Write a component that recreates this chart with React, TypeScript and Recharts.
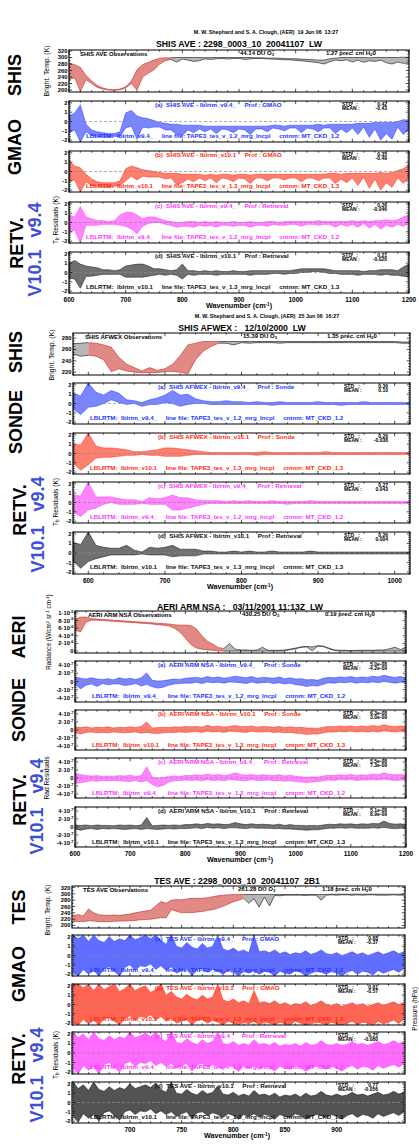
import React from "react";
import { ComposedChart, Area, XAxis, YAxis, ReferenceLine, ReferenceArea } from "recharts";

const FONT = '"Liberation Sans", Arial, Helvetica, sans-serif';
const PAGE_W = 419;
const PAGE_H = 1145;

const BLUE = "#2236ff";
const RED = "#ff2a12";
const MAGENTA = "#ff33ff";
const BLACK = "#111111";
const OBS_RED = "#c9281f";
const LABEL_BLUE = "#3d4fd8";

// ---------- wavenumber grids (cm-1) ----------
const SHIS_WN = [600,610,620,630,640,650,660,670,680,690,700,710,720,730,740,750,760,770,780,790,800,810,820,830,840,850,860,870,880,890,900,910,920,930,940,950,960,970,980,990,1000,1010,1020,1030,1040,1050,1060,1070,1080,1090,1100,1110,1120,1130,1140,1150,1160,1170,1180,1190,1200];
const AFWEX_WN = [580,590,600,610,620,630,640,650,660,670,680,690,700,710,720,730,740,750,760,770,780,790,800,810,820,830,840,850,860,870,880,890,900,910,920,930,940,950,960,970,980,990,1000,1010,1020];
const AERI_WN = SHIS_WN;
const TES_WN = [645,650,655,660,665,670,675,680,685,690,695,700,705,710,715,720,725,730,735,740,745,750,755,760,765,770,775,780,785,790,795,800,805,810,815,820,825,830,835,840,845,850,855,860,865,870,875,880,885,890,895,900,905,910,915,920,925,930,935,940,945,950,955,960,965];

// ---------- SHIS AVE (brightness temp K, residuals K): envelope lo / hi ----------
const SHIS_BT_HI = [282,278,270,245,228,214,206,202,201,203,210,228,262,278,285,292,298,299,299,300,300, 300,300,300,299,300,300,300,300,300,300, 300,300,299,299,298,298,298,297,296,296, 295,294,293,292,292,296,298,300,300,300, 300,300,299,300,300,300,300,300,301,300];
const SHIS_BT_LO = [232,238,196,232,220,208,203,200,199,201,206,220,200,240,252,262,280,290,294,286,295, 292,288,290,296,294,296,297,295,297,297, 294,296,297,297,296,295,294,293,293,291, 290,288,286,284,280,287,292,290,293,286, 292,285,290,288,292,284,280,286,282,284];
const SHIS_A_HI = [0.6,0.9,1.8,-0.3,-0.9,-1.1,-1.2,-1.3,-1.3,-1.1,0.9,1.2,0.6,0.4,0.3,0.1,-0.1,-0.2,-0.3,-0.3,-0.4, -0.4,-0.4,-0.4,-0.5,-0.5,-0.5,-0.5,-0.5,-0.5,-0.5, -0.5,-0.5,-0.5,-0.5,-0.5,-0.4,-0.4,-0.5,-0.4,-0.4, -0.4,-0.4,-0.4,-0.3,-0.4,-0.3,-0.3,-0.3,-0.3,-0.3, -0.2,-0.2,-0.2,-0.1,-0.1,-0.1,-0.1,0.0,0.2,0.1];
const SHIS_A_LO = [-1.2,-0.9,-2.2,-1.1,-1.5,-1.6,-1.7,-1.7,-1.6,-1.6,-0.7,-0.5,-1.9,-0.6,-0.7,-0.6,-0.6,-0.9,-0.9,-1.4,-1.5, -0.9,-1.2,-0.8,-1.1,-0.8,-1.3,-0.8,-0.9,-1.2,-0.8, -0.9,-1.4,-0.8,-0.8,-1.1,-0.7,-0.8,-1.0,-0.7,-0.7, -1.2,-0.7,-0.8,-1.1,-0.7,-0.7,-1.3,-0.8,-1.2,-0.7, -1.4,-0.6,-1.7,-0.8,-2.0,-1.3,-1.9,-0.6,-1.4,-0.8];
const SHIS_B_HI = [1.2,0.6,0.4,-0.3,-0.8,-1.1,-1.2,-1.2,-1.2,-1.0,0.3,0.6,0.4,0.2,0.1,0.0,-0.1,-0.2,-0.2,-0.2,-0.3, -0.3,-0.3,-0.3,-0.4,-0.3,-0.4,-0.3,-0.3,-0.4,-0.3, -0.3,-0.4,-0.3,-0.3,-0.3,-0.3,-0.3,-0.3,-0.3,-0.3, -0.3,-0.3,-0.3,-0.3,-0.3,-0.2,-0.2,-0.3,-0.2,-0.2, -0.2,-0.2,-0.2,-0.2,-0.1,-0.2,-0.1,0.1,0.3,0.8];
const SHIS_B_LO = [-1.1,-0.9,-2.2,-1.1,-1.5,-1.6,-1.7,-1.7,-1.6,-1.5,-1.0,-0.5,-0.9,-0.5,-0.6,-0.6,-0.6,-0.8,-0.7,-1.4,-1.2, -0.8,-1.1,-0.7,-1.0,-0.7,-1.2,-0.7,-0.8,-1.1,-0.7, -0.8,-1.3,-0.7,-0.7,-1.0,-0.7,-0.7,-0.9,-0.7,-0.7, -1.1,-0.7,-0.7,-1.0,-0.7,-0.7,-1.3,-0.8,-1.2,-0.7, -1.5,-0.6,-1.8,-0.8,-2.0,-1.2,-1.7,-0.7,-1.3,-0.6];
const SHIS_C_HI = [0.8,0.6,1.7,0.6,0.4,0.2,0.2,0.1,0.2,0.8,1.1,1.1,0.8,0.4,0.6,0.6,0.4,0.2,0.1,0.0,0.0, 0.1,0.1,0.0,0.1,0.0,0.1,0.0,0.0,0.1,0.0, 0.0,0.1,0.0,0.0,0.1,0.1,0.0,0.1,0.1,0.1, 0.1,0.1,0.1,0.2,0.1,0.1,0.1,0.1,0.1,0.2, 0.1,0.2,0.1,0.2,0.2,0.3,0.2,0.3,0.6,0.8];
const SHIS_C_LO = [-1.1,-0.8,-2.2,-0.3,-0.3,-0.3,-0.2,-0.2,-0.2,-0.3,-0.4,-0.7,-1.2,-0.4,-0.1,0.0,0.0,-0.2,-0.3,-0.5,-0.4, -0.4,-0.5,-0.3,-0.4,-0.3,-0.5,-0.3,-0.3,-0.4,-0.3, -0.3,-0.5,-0.3,-0.3,-0.4,-0.2,-0.3,-0.3,-0.2,-0.2, -0.4,-0.2,-0.2,-0.3,-0.2,-0.2,-0.5,-0.2,-0.4,-0.2, -0.5,-0.1,-0.6,-0.2,-0.7,-0.3,-0.5,-0.2,-0.4,-0.1];
const SHIS_D_HI = [1.0,1.3,0.9,0.7,0.6,0.5,0.3,0.3,0.2,0.3,0.7,0.8,0.9,0.9,0.7,0.4,0.4,0.3,0.2,0.3,0.9, 0.2,0.2,0.1,0.2,0.1,0.2,0.1,0.1,0.2,0.1, 0.1,0.2,0.2,0.2,0.2,0.2,0.2,0.2,0.2,0.3, 0.4,0.4,0.4,0.4,0.4,0.3,0.2,0.2,0.2,0.2, 0.2,0.1,0.2,0.2,0.3,0.3,0.3,0.2,0.6,0.9];
const SHIS_D_LO = [-0.6,-0.7,-1.7,-0.4,-0.4,-0.3,-0.2,-0.2,-0.2,-0.2,-0.5,-0.5,-0.5,-0.5,-0.4,-0.3,-0.2,-0.3,-0.2,-0.3,-0.7, -0.2,-0.3,-0.2,-0.2,-0.2,-0.3,-0.2,-0.2,-0.2,-0.2, -0.2,-0.3,-0.2,-0.2,-0.2,-0.1,-0.1,-0.2,-0.1,-0.1, 0.0,0.0,0.1,0.1,0.0,-0.1,-0.1,-0.2,-0.2,-0.2, -0.3,-0.2,-0.2,-0.2,-0.3,-0.2,-0.3,-0.3,-0.4,-0.5];

// ---------- SHIS AFWEX ----------
const AFWEX_BT_HI = [270,271,272,271,268,264,246,234,228,222,228,223,226,234,249,268,271,274,274,274,274,274,274, 274,274,274,274,274,274,274,274,274,274, 274,274,274,274,274,274,274,274,274,274, 273,273];
const AFWEX_BT_LO = [252,248,250,248,242,221,226,222,220,219,219,219,221,221,220,217,242,257,265,271,271,268,272, 271,272,272,272,271,272,272,272,272,272, 272,272,272,272,272,272,272,272,272,272, 271,271];
const AFWEX_A_HI = [1.1,0.8,2.2,1.2,0.9,1.4,1.1,0.4,0.3,0.1,0.4,0.6,0.9,1.4,0.9,1.0,0.5,0.3,0.2,0.2,0.3,0.2,0.2, 0.1,0.2,0.1,0.1,0.2,0.1,0.1,0.1,0.1,0.2, 0.1,0.1,0.1,0.1,0.1,0.2,0.1,0.1,0.1,0.1, 0.1,0.1];
const AFWEX_A_LO = [-0.5,-1.2,-0.4,-0.3,0.0,0.4,0.1,-0.1,0.0,-0.3,-0.1,-0.1,0.1,0.0,-0.3,-0.1,0.0,0.0,-0.1,-0.1,-0.1,-0.1,-0.1, -0.1,-0.1,-0.1,-0.2,-0.1,-0.1,-0.1,-0.1,-0.1,-0.1, -0.1,-0.1,-0.2,-0.1,-0.1,-0.1,-0.1,-0.1,-0.1,-0.1, -0.1,-0.1];
const AFWEX_B_HI = [1.0,0.9,2.2,0.8,0.6,0.6,0.5,0.4,0.2,0.2,0.3,0.4,0.6,0.6,0.5,0.4,0.3,0.2,0.1,0.1,0.1,0.1,0.1, 0.1,0.1,0.2,0.1,0.1,0.1,0.1,0.1,0.1,0.1, 0.2,0.1,0.1,0.1,0.1,0.1,0.1,0.1,0.1,0.1, 0.1,0.1];
const AFWEX_B_LO = [-1.0,-1.8,-1.2,-0.5,-0.4,-0.4,-0.3,-0.2,-0.2,-0.1,-0.2,-0.2,-0.3,-0.3,-0.3,-0.2,-0.1,-0.1,-0.1,-0.1,-0.1,-0.1,-0.1, -0.1,-0.2,-0.1,-0.1,-0.1,-0.1,-0.1,-0.1,-0.1,-0.1, -0.1,-0.1,-0.1,-0.1,-0.1,-0.1,-0.1,-0.1,-0.1,-0.1, -0.1,-0.1];
const AFWEX_C_HI = [0.8,0.7,2.2,0.6,0.6,0.6,0.4,0.3,0.3,0.1,0.5,0.4,0.5,0.8,0.5,0.5,0.3,0.2,0.2,0.2,0.1,0.2,0.1, 0.2,0.1,0.1,0.2,0.1,0.1,0.1,0.1,0.2,0.1, 0.1,0.1,0.1,0.1,0.1,0.1,0.1,0.1,0.1,0.1, 0.1,0.1];
const AFWEX_C_LO = [-1.0,-1.5,-0.8,-0.6,-0.2,0.0,-0.2,-0.2,-0.2,-0.1,-0.2,-0.2,-0.2,-0.8,-0.8,-0.6,-0.4,-0.2,-0.1,-0.1,-0.1,-0.1,-0.1, -0.1,-0.1,-0.1,-0.1,-0.1,-0.2,-0.1,-0.1,-0.1,-0.1, -0.1,-0.1,-0.1,-0.1,-0.1,-0.1,-0.1,-0.1,-0.1,-0.1, -0.1,-0.1];
const AFWEX_D_HI = [1.1,0.9,2.2,0.8,0.6,0.5,0.5,0.8,0.3,0.1,0.6,0.5,0.6,0.8,0.4,0.4,0.4,0.2,0.2,0.1,0.1,0.2,0.1, 0.2,0.1,0.1,0.2,0.1,0.1,0.1,0.1,0.2,0.1, 0.1,0.1,0.1,0.1,0.1,0.1,0.1,0.1,0.1,0.1, 0.1,0.1];
const AFWEX_D_LO = [-0.8,-1.6,-0.9,-0.6,-0.4,-0.2,-0.2,-0.2,-0.2,-0.1,-0.2,-0.2,-0.2,-0.4,-0.3,-0.3,-0.3,-0.1,-0.1,-0.1,-0.1,-0.1,-0.1, -0.1,-0.1,-0.1,-0.1,-0.1,-0.1,-0.1,-0.1,-0.1,-0.1, -0.1,-0.1,-0.1,-0.1,-0.1,-0.1,-0.1,-0.1,-0.1,-0.1, -0.1,-0.1];

// ---------- AERI ARM NSA (radiance in 1e-6, residuals in 1e-7 W/cm2 sr cm-1) ----------
const AERI_RAD_HI = [8.3,8.9,8.9,8.5,8.4,8.3,8.2,8.1,8.0,7.9,7.8,7.7,7.6,7.5,7.4,7.3,7.2,7.1,6.9,6.8,6.8, 6.7,5.8,4.0,2.6,1.8,0.9,0.7,2.0,0.5,0.3, 0.3,0.2,0.3,1.0,0.2,0.2,0.2,0.3,0.5,0.8, 1.1,1.2,1.1,1.4,1.3,0.8,0.3,0.2,0.2,0.1, 0.2,0.2,0.2,0.2,0.3,0.3,0.6,1.0,0.4,1.0];
const AERI_RAD_LO = [5.5,5.0,7.6,8.1,8.1,8.0,7.9,7.8,7.7,7.6,7.5,7.4,7.3,7.2,7.1,6.9,6.8,6.6,6.0,5.0,3.4, 1.7,0.8,0.5,0.3,0.2,0.1,0.0,0.0,0.0,0.0, 0.0,0.0,0.0,0.0,0.0,0.0,0.0,0.0,0.4,0.6, 1.0,1.1,0.1,1.3,1.2,0.6,0.2,0.0,0.0,0.0, 0.0,0.0,0.0,0.0,0.0,0.0,0.0,0.0,0.0,0.0];
const AERI_A_HI = [1.1,0.8,0.6,0.9,0.6,0.5,0.7,0.4,0.9,0.6,0.8,0.5,0.9,2.1,0.3,0.1,0.2,0.4,0.6,0.5,0.8, 0.9,1.0,0.8,1.2,0.9,1.1,0.8,1.0,1.3,1.1, 0.9,1.2,0.8,1.0,0.9,0.8,1.1,0.7,0.9,0.6, 0.7,0.4,0.5,0.3,0.8,1.0,0.9,1.1,1.0,1.2, 0.9,1.1,1.0,1.3,1.1,1.5,1.2,1.0,1.2,0.9];
const AERI_A_LO = [-0.6,-1.8,-0.9,-0.6,-1.2,-0.5,-0.8,-0.6,-0.6,-1.0,-0.8,-0.5,-1.1,-0.7,-1.3,-1.6,-1.4,-0.9,-0.6,-0.5,-0.4, -0.4,-0.2,-0.5,-0.1,-0.3,-0.2,-0.4,-0.1,-0.2,-0.3, -0.5,-0.1,-0.4,-0.3,-0.2,-0.5,-0.3,-0.6,-0.4,-0.8, -0.9,-1.2,-1.0,-1.1,-0.7,-0.3,-0.4,-0.2,-0.3,-0.1, -0.4,-0.2,-0.3,-0.1,-0.3,0.0,-0.2,-0.4,-0.2,-0.3];
const AERI_B_HI = [0.7,0.6,0.8,0.5,0.7,0.6,0.8,0.5,0.7,0.6,0.8,0.6,0.9,2.0,0.5,0.6,0.7,0.6,0.8,0.7,0.9, 0.8,0.9,0.7,1.2,0.8,1.0,0.7,0.9,1.1,0.9, 0.8,1.0,0.7,0.9,0.8,0.7,0.9,0.6,0.8,0.6, 0.7,0.5,0.5,0.4,0.7,0.9,0.8,1.0,0.9,1.0, 0.8,1.0,0.9,1.1,0.9,1.3,1.0,0.9,1.0,0.8];
const AERI_B_LO = [-0.6,-1.0,-0.6,-0.5,-0.7,-0.6,-0.7,-0.5,-0.6,-0.7,-0.6,-0.5,-0.8,-0.6,-0.8,-0.9,-0.7,-0.6,-0.6,-0.5,-0.6, -0.5,-0.4,-0.6,-0.3,-0.5,-0.4,-0.6,-0.3,-0.4,-0.5, -0.6,-0.3,-0.5,-0.5,-0.4,-0.6,-0.5,-0.7,-0.6,-0.8, -0.9,-1.1,-1.0,-1.0,-0.7,-0.5,-0.5,-0.4,-0.5,-0.3, -0.5,-0.4,-0.5,-0.3,-0.5,-0.2,-0.4,-0.5,-0.4,-0.5];
const AERI_C_HI = [1.1,0.9,0.6,0.5,0.6,0.4,0.5,0.4,0.6,0.5,0.7,0.4,0.6,2.8,0.2,0.0,0.1,0.4,0.5,0.4,0.6, 0.6,0.8,0.6,1.0,0.7,0.9,0.6,0.8,1.3,0.9, 0.7,0.9,0.6,0.8,0.7,0.6,0.8,0.5,0.7,0.4, 0.3,0.2,0.3,0.2,0.5,0.7,0.6,0.8,0.7,0.9, 0.6,0.8,0.7,1.0,0.8,1.3,0.9,0.8,0.9,0.7];
const AERI_C_LO = [-1.3,-1.2,-0.9,-0.7,-0.8,-0.6,-0.7,-0.6,-0.7,-0.8,-0.9,-0.6,-1.0,-0.6,-1.6,-2.2,-1.8,-1.0,-0.7,-0.6,-0.5, -0.6,-0.5,-0.7,-0.4,-0.6,-0.5,-0.7,-0.4,-0.5,-0.6, -0.7,-0.4,-0.6,-0.6,-0.5,-0.7,-0.6,-0.8,-0.7,-0.9, -1.0,-1.1,-1.0,-0.9,-0.7,-0.5,-0.6,-0.4,-0.5,-0.4, -0.6,-0.5,-0.5,-0.4,-0.5,-0.3,-0.5,-0.6,-0.5,-0.6];
const AERI_D_HI = [0.5,0.4,0.5,0.3,0.5,0.4,0.4,0.3,0.5,0.4,0.5,0.3,0.5,2.4,0.3,0.4,0.5,0.4,0.5,0.4,0.6, 0.6,0.8,0.6,0.9,0.7,0.8,0.6,0.7,1.1,0.8, 0.6,0.8,0.6,0.7,0.6,0.5,0.7,0.4,0.6,0.4, 0.4,0.3,0.4,0.3,0.5,0.7,0.6,0.8,0.7,0.8, 0.6,0.8,0.7,0.9,0.8,1.5,0.9,0.7,0.8,0.6];
const AERI_D_LO = [-0.5,-0.8,-0.5,-0.4,-0.6,-0.4,-0.5,-0.4,-0.5,-0.6,-0.5,-0.4,-0.6,-0.4,-0.5,-0.6,-0.5,-0.4,-0.5,-0.4,-0.4, -0.3,-0.2,-0.4,-0.1,-0.3,-0.2,-0.4,-0.2,-0.2,-0.3, -0.4,-0.2,-0.3,-0.3,-0.3,-0.4,-0.4,-0.5,-0.5,-0.6, -0.7,-0.8,-0.7,-0.7,-0.5,-0.3,-0.3,-0.2,-0.3,-0.2, -0.3,-0.3,-0.3,-0.2,-0.3,-0.1,-0.3,-0.4,-0.3,-0.4];

// ---------- TES AVE 2B1 ----------
const TES_BT_HI = [232,234,230,252,240,234,232,232,233,232, 234,236,240,243,246,248,262,276,270,280, 282,281,284,286,286,286,288,291,294,296, 297,298,298,298,298,298,298,298,298,298, 298,298,298,298,298,298,298,298,298,298, 299,299,299,299,299,299,299,299,299,299, 299,299,299,299,299];
const TES_BT_LO = [212,213,212,215,214,212,212,212,213,214, 214,215,216,218,219,220,222,225,224,250, 245,240,241,240,243,244,248,250,255,261, 268,275,280,286,270,285,258,290,262,295, 294,296,296,296,296,295,296,296,280,296, 297,296,297,297,296,297,296,297,297,296, 296,296,297,296,296];
const TES_A_HI = [2.2,1.8,2.2,1.5,2.2,1.6,1.4,2.0,1.5,1.8, 1.6,2.2,1.7,1.9,2.2,1.8,2.2,1.6,1.2,2.2, 1.0,0.8,1.4,0.9,0.7,1.3,0.8,1.0,2.2,0.7, 0.5,0.8,0.4,0.6,0.3,2.2,0.4,0.5,0.3,0.6, 0.2,0.4,0.1,0.3,0.2,0.5,0.1,0.3,0.6,0.2, 0.1,0.3,0.0,0.2,0.4,0.1,0.3,0.0,0.2,0.4, 0.1,0.3,0.5,0.2,0.4];
const TES_A_LO = [-1.8,-2.2,-1.5,-2.0,-1.6,-2.2,-1.4,-1.2,-1.7,-2.2, -1.3,-1.0,-1.6,-1.1,-1.2,-0.9,-1.5,-1.1,-1.6,-1.2, -1.9,-1.6,-1.4,-2.2,-1.5,-1.4,-1.8,-1.5,-1.7,-2.0, -1.6,-1.8,-2.2,-1.7,-1.9,-1.6,-2.0,-1.7,-1.8,-2.2, -1.7,-1.9,-2.0,-1.6,-1.8,-2.2,-1.9,-1.7,-1.8,-2.0, -1.7,-1.9,-2.2,-1.8,-1.6,-2.0,-1.7,-1.8,-2.1,-1.6, -1.9,-1.7,-1.5,-1.8,-1.4];
const TES_B_HI = [2.2,2.2,1.8,2.2,1.5,2.2,1.6,1.9,2.2,1.4, 1.7,2.2,1.5,1.8,2.0,1.3,1.6,2.2,1.0,1.4, 0.8,0.6,1.1,0.7,0.5,1.0,0.6,0.8,2.2,0.5, 0.3,0.6,0.2,0.4,0.1,1.5,0.2,0.3,0.1,0.4, 0.0,0.2,-0.1,0.1,0.0,0.3,-0.1,0.1,0.4,0.0, -0.1,0.1,-0.2,0.0,0.2,-0.1,0.1,-0.2,0.0,0.2, -0.1,0.1,0.3,0.0,0.2];
const TES_B_LO = [-1.9,-2.2,-1.6,-2.1,-1.7,-2.2,-1.5,-1.4,-1.8,-2.2, -1.5,-1.2,-1.7,-1.3,-1.4,-1.1,-1.7,-1.3,-1.8,-1.4, -2.0,-1.8,-1.6,-2.2,-1.7,-1.6,-2.0,-1.7,-1.9,-2.2, -1.8,-2.0,-2.2,-1.9,-2.1,-1.8,-2.2,-1.9,-2.0,-2.2, -1.9,-2.1,-2.2,-1.8,-2.0,-2.2,-2.1,-1.9,-2.0,-2.2, -1.9,-2.1,-2.2,-2.0,-1.8,-2.2,-1.9,-2.0,-2.2,-1.8, -2.1,-1.9,-1.7,-2.0,-1.6];
const TES_C_HI = [2.2,1.6,2.0,1.4,2.2,1.5,1.3,1.8,1.4,1.7, 1.5,2.2,1.6,1.8,2.1,1.7,2.2,1.5,1.2,2.2, 1.1,1.0,1.5,1.1,0.9,1.4,1.0,1.2,2.2,1.0, 0.9,1.2,0.8,1.0,0.8,1.4,0.9,1.0,0.8,1.1, 0.7,0.9,0.8,1.0,0.7,1.1,0.8,0.9,1.3,0.9, 0.8,1.0,0.8,0.9,1.2,0.9,1.0,0.8,1.0,1.2, 0.9,1.0,1.3,1.0,1.2];
const TES_C_LO = [-1.6,-2.2,-1.3,-1.8,-1.4,-2.2,-1.2,-1.0,-1.5,-2.0, -1.1,-0.9,-1.4,-1.0,-1.1,-0.8,-1.3,-1.0,-1.4,-1.1, -1.6,-1.3,-1.1,-1.9,-1.2,-1.1,-1.5,-1.2,-1.4,-1.7, -1.3,-1.5,-1.9,-1.4,-1.6,-1.3,-1.7,-1.4,-1.5,-1.9, -1.4,-1.6,-1.7,-1.3,-1.5,-1.9,-1.6,-1.4,-1.5,-1.7, -1.4,-1.6,-1.9,-1.5,-1.3,-1.7,-1.4,-1.5,-1.8,-1.3, -1.6,-1.4,-1.2,-1.5,-1.1];
const TES_D_HI = [2.2,1.5,1.9,1.3,2.2,1.4,1.2,1.7,1.3,1.6, 1.4,2.0,1.5,1.7,1.9,1.6,2.1,1.4,1.1,2.2, 1.0,0.9,1.4,1.0,0.8,1.3,0.9,1.1,1.8,0.9, 0.8,1.1,0.7,0.9,0.7,1.3,0.8,0.9,0.7,1.0, 0.6,0.8,0.7,0.9,0.6,1.0,0.7,0.8,1.2,0.8, 0.7,0.9,0.7,0.8,1.1,0.8,0.9,0.7,0.9,1.1, 0.8,0.9,1.2,0.9,1.1];
const TES_D_LO = [-1.5,-2.1,-1.2,-1.7,-1.3,-2.0,-1.1,-0.9,-1.4,-1.9, -1.0,-0.8,-1.3,-0.9,-1.0,-0.7,-1.2,-0.9,-1.3,-1.0, -1.5,-1.2,-1.0,-1.8,-1.1,-1.0,-1.4,-1.1,-1.3,-1.6, -1.2,-1.4,-1.8,-1.3,-1.5,-1.2,-1.6,-1.3,-1.4,-1.8, -1.3,-1.5,-1.6,-1.2,-1.4,-1.8,-1.5,-1.3,-1.4,-1.6, -1.3,-1.5,-1.8,-1.4,-1.2,-1.6,-1.3,-1.4,-1.7,-1.2, -1.5,-1.3,-1.1,-1.4,-1.0];

// wavenumber ranges where the observation/model overlay shows red
const SHIS_RED: [number, number] = [600, 780];
const AFWEX_RED: [number, number] = [600, 770];
const AERI_RED: [number, number] = [600, 870];
const TES_RED: [number, number] = [645, 810];

type Band = [number, number] | null;
interface Row { x: number; band?: Band; red?: Band; blk?: Band }

function bandRows(wn: number[], lo: number[], hi: number[]): Row[] {
  return wn.map((x, i) => ({ x, band: [lo[i], hi[i]] }));
}

function obsRows(wn: number[], lo: number[], hi: number[], red: [number, number]): Row[] {
  return wn.map((x, i) => {
    const b: Band = [lo[i], hi[i]];
    const inRed = x >= red[0] && x <= red[1];
    const inBlk = x <= red[0] || x >= red[1];
    return { x, red: inRed ? b : null, blk: inBlk ? b : null };
  });
}

function tickList(dom: [number, number], maj: number[], step: number) {
  const out = [...maj];
  const start = Math.ceil(dom[0] / step - 1e-9) * step;
  for (let v = start; v <= dom[1] + 1e-9; v += step) {
    const r = Math.round(v * 1000) / 1000;
    if (!maj.some((m) => Math.abs(m - r) < 1e-6)) out.push(r);
  }
  return out;
}
const isMajor = (maj: number[], v: number) => maj.some((m) => Math.abs(m - v) < 1e-6);

// ---------- text helpers ----------
function T({ x, y, s, c = "#000", w = "bold", a = "start", children }: any) {
  const tx = a === "middle" ? "-50%" : a === "end" ? "-100%" : "0";
  return (
    <div style={{ position: "absolute", left: x, top: y, transform: `translate(${tx}, -50%)`, fontSize: s, lineHeight: 1, color: c, fontWeight: w, fontFamily: FONT, whiteSpace: "pre" }}>
      {children}
    </div>
  );
}

function V({ x, y, s, c = "#000", w = "bold", children }: any) {
  return (
    <div style={{ position: "absolute", left: x, top: y, transform: "translate(-50%, -50%) rotate(-90deg)", fontSize: s, lineHeight: 1, color: c, fontWeight: w, fontFamily: FONT, whiteSpace: "pre" }}>
      {children}
    </div>
  );
}

const Sub = ({ children }: any) => <span style={{ fontSize: "70%", verticalAlign: "-0.25em" }}>{children}</span>;
const Sup = ({ children }: any) => <span style={{ fontSize: "65%", verticalAlign: "0.45em" }}>{children}</span>;

// ---------- one framed panel ----------
interface SeriesDef { key: string; color: string; op: number; sw: number }
interface PanelProps {
  top: number; h: number; left: number; right: number;
  xDom: [number, number]; xMaj: number[]; xMinStep: number; xLabels: boolean;
  yDom: [number, number]; yMaj: number[]; yMinStep: number; yFmt: (v: number) => React.ReactNode;
  data: Row[]; series: SeriesDef[]; zero: boolean;
}

function Panel(p: PanelProps) {
  const MT = 4;
  const XH = 12;
  const MB = 2;
  const xTick = (t: any) => {
    const { x, y, payload } = t;
    const major = isMajor(p.xMaj, payload.value);
    const len = major ? 3.2 : 1.7;
    return (
      <g>
        <line x1={x} x2={x} y1={y} y2={y - len} stroke="#000" strokeWidth={0.7} />
        <line x1={x} x2={x} y1={MT} y2={MT + len} stroke="#000" strokeWidth={0.7} />
        {major && p.xLabels ? (
          <text x={x} y={y + 8.5} textAnchor="middle" fontSize={6.5} fontWeight="bold" fontFamily={FONT} fill="#000">{payload.value}</text>
        ) : null}
      </g>
    );
  };
  const yTick = (t: any) => {
    const { x, y, payload } = t;
    const major = isMajor(p.yMaj, payload.value);
    const len = major ? 3.2 : 1.7;
    return (
      <g>
        <line x1={x} x2={x + len} y1={y} y2={y} stroke="#000" strokeWidth={0.7} />
        <line x1={p.right} x2={p.right - len} y1={y} y2={y} stroke="#000" strokeWidth={0.7} />
        {major ? (
          <text x={x - 1.5} y={y + 2} textAnchor="end" fontSize={5.8} fontWeight="bold" fontFamily={FONT} fill="#000">{p.yFmt(payload.value)}</text>
        ) : null}
      </g>
    );
  };
  return (
    <div style={{ position: "absolute", left: 0, top: p.top - MT }}>
      <ComposedChart width={PAGE_W} height={MT + p.h + XH + MB} data={p.data} margin={{ top: MT, right: PAGE_W - p.right, bottom: MB, left: 0 }}>
        <XAxis dataKey="x" type="number" domain={p.xDom} allowDataOverflow ticks={tickList(p.xDom, p.xMaj, p.xMinStep)} interval={0} tick={xTick} tickLine={false} axisLine={false} tickSize={0} tickMargin={0} height={XH} />
        <YAxis type="number" domain={p.yDom} allowDataOverflow ticks={tickList(p.yDom, p.yMaj, p.yMinStep)} interval={0} tick={yTick} tickLine={false} axisLine={false} tickSize={0} tickMargin={0} width={p.left} />
        {p.zero ? <ReferenceLine y={0} stroke="#8a8a8a" strokeWidth={0.7} strokeDasharray="3 2" /> : null}
        {p.series.map((s) => (
          <Area key={s.key} dataKey={s.key} type="linear" stroke={s.color} strokeWidth={s.sw} fill={s.color} fillOpacity={s.op} dot={false} activeDot={false} connectNulls={false} isAnimationActive={false} />
        ))}
        <ReferenceArea x1={p.xDom[0]} x2={p.xDom[1]} y1={p.yDom[0]} y2={p.yDom[1]} fill="none" fillOpacity={0} stroke="#000" strokeWidth={1.2} />
      </ComposedChart>
    </div>
  );
}

// ---------- one stacked block (observation + four residual panels) ----------
interface Res { tag: string; ver: string; prof: string; std: string; mean: string; col: string; lo: number[]; hi: number[] }
interface BlockProps {
  name: string; left: number; right: number; tops: number[]; hs: number[];
  wn: number[]; xDom: [number, number]; xMaj: number[]; xMinStep: number;
  obsDom: [number, number]; obsMaj: number[]; obsMinStep: number; obsFmt: (v: number) => React.ReactNode;
  obsLo: number[]; obsHi: number[]; red: [number, number];
  du: string; h2o: string; obsX: [number, number, number];
  resDom: [number, number]; resMaj: number[]; resMinStep: number; resFmt: (v: number) => React.ReactNode;
  res: Res[]; bandOp: number;
  titleX: number; stdX: number; valX: number; botX: number; wavX: number;
}

function Block(b: BlockProps) {
  const common = { left: b.left, right: b.right, xDom: b.xDom, xMaj: b.xMaj, xMinStep: b.xMinStep };
  const last = b.tops.length - 1;
  return (
    <>
      <Panel {...common} top={b.tops[0]} h={b.hs[0]} xLabels={false} yDom={b.obsDom} yMaj={b.obsMaj} yMinStep={b.obsMinStep} yFmt={b.obsFmt}
        data={obsRows(b.wn, b.obsLo, b.obsHi, b.red)}
        series={[{ key: "blk", color: BLACK, op: 0.3, sw: 0.6 }, { key: "red", color: OBS_RED, op: 0.55, sw: 0.6 }]} zero={false} />
      <T x={b.obsX[0]} y={b.tops[0] + 4} s={6}>{b.name} Observations</T>
      <T x={b.obsX[1]} y={b.tops[0] + 4} s={6}>{b.du} DU O<Sub>3</Sub></T>
      <T x={b.obsX[2]} y={b.tops[0] + 4} s={6}>{b.h2o} prec. cm H<Sub>2</Sub>0</T>
      {b.res.map((r, i) => {
        const top = b.tops[i + 1];
        const tape = r.ver === "v9.4_" ? "1.2" : "1.3";
        return (
          <React.Fragment key={r.tag}>
            <Panel {...common} top={top} h={b.hs[i + 1]} xLabels={i + 1 === last} yDom={b.resDom} yMaj={b.resMaj} yMinStep={b.resMinStep} yFmt={b.resFmt}
              data={bandRows(b.wn, r.lo, r.hi)} series={[{ key: "band", color: r.col, op: b.bandOp, sw: 0.5 }]} zero />
            <T x={b.titleX} y={top + 4} s={6.2} c={r.col}>{`(${r.tag})  ${b.name} - lblrtm_${r.ver}     Prof : ${r.prof}`}</T>
            <T x={b.stdX} y={top + 3} s={5}>STD   :</T>
            <T x={b.stdX} y={top + 6.8} s={5}>MEAN :</T>
            <T x={b.valX} y={top + 3} s={5} a="end">{r.std}</T>
            <T x={b.valX} y={top + 6.8} s={5} a="end">{r.mean}</T>
            <T x={b.botX} y={top + 35} s={6.2} c={r.col}>{`LBLRTM:  lblrtm_${r.ver}     line file: TAPE3_tes_v_${tape}_mrg_lncpl     cntnm: MT_CKD_${tape}`}</T>
          </React.Fragment>
        );
      })}
      <T x={b.wavX} y={b.tops[last] + b.hs[last] + 12.5} s={7.2} a="middle">Wavenumber (cm<Sup>-1</Sup>)</T>
    </>
  );
}

const intFmt = (v: number) => String(v);
const pow = (v: number, e: string) => {
  if (Math.abs(v) < 1e-9) return "0";
  return (
    <>
      <tspan>{`${v}·10`}</tspan>
      <tspan dy={-2.2} fontSize={4}>{e}</tspan>
    </>
  );
};
const radFmt = (v: number) => (v >= 10 ? pow(v / 10, "-5") : pow(v, "-6"));
const radResFmt = (v: number) => pow(v, "-7");

const RES_MAJ = [-2, -1, 0, 1, 2];
const RES_DOM: [number, number] = [-2.2, 2.2];

export default function App() {
  return (
    <div style={{ position: "absolute", left: 0, top: 0, width: PAGE_W, height: PAGE_H, background: "#fff", overflow: "hidden", fontFamily: FONT }}>
      {/* ===== SHIS AVE ===== */}
      <T x={266} y={33} s={5.3}  a="middle">M. W. Shephard and S. A. Clough, (AER)  19 Jun 06  13:27</T>
      <T x={239} y={44} s={8.7} a="middle">SHIS AVE : 2298_0003_10  20041107  LW</T>
      <Block name="SHIS AVE" left={69} right={409} tops={[50, 101, 151, 202, 252]} hs={[42, 41, 41, 41, 41]}
        wn={SHIS_WN} xDom={[600, 1200]} xMaj={[600, 700, 800, 900, 1000, 1100, 1200]} xMinStep={20}
        obsDom={[194, 323]} obsMaj={[200, 220, 240, 260, 280, 300, 320]} obsMinStep={10} obsFmt={intFmt}
        obsLo={SHIS_BT_LO} obsHi={SHIS_BT_HI} red={SHIS_RED} du="44.14" h2o="1.27" obsX={[80, 240, 326]}
        resDom={RES_DOM} resMaj={RES_MAJ} resMinStep={0.2} resFmt={intFmt} bandOp={0.6}
        res={[
          { tag: "a", ver: "v9.4_", prof: "GMAO", std: "0.42", mean: "-0.43", col: BLUE, lo: SHIS_A_LO, hi: SHIS_A_HI },
          { tag: "b", ver: "v10.1", prof: "GMAO", std: "0.35", mean: "-0.49", col: RED, lo: SHIS_B_LO, hi: SHIS_B_HI },
          { tag: "c", ver: "v9.4_", prof: "Retrieval", std: "0.26", mean: "-0.046", col: MAGENTA, lo: SHIS_C_LO, hi: SHIS_C_HI },
          { tag: "d", ver: "v10.1", prof: "Retrieval", std: "0.21", mean: "-0.020", col: BLACK, lo: SHIS_D_LO, hi: SHIS_D_HI },
        ]}
        titleX={155} stdX={342} valX={387} botX={86} wavX={239} />
      <V x={47} y={71} s={6.8} w="normal">Bright. Temp. (K)</V>
      <V x={57} y={220} s={6.6} w="normal">T<Sub>b</Sub> Residuals (K)</V>
      <V x={15} y={75} s={18}>SHIS</V>
      <V x={15} y={147} s={18}>GMAO</V>
      <V x={17} y={243} s={18}>RETV.</V>
      <V x={35} y={220} s={18} c={LABEL_BLUE}>v9.4</V>
      <V x={35} y={273} s={18} c={LABEL_BLUE}>V10.1</V>

      {/* ===== SHIS AFWEX ===== */}
      <T x={267} y={317} s={5.3} a="middle">M. W. Shephard and S. A. Clough, (AER)  25 Jun 06  16:27</T>
      <T x={242} y={328} s={8.7} a="middle">SHIS AFWEX :   12/10/2000  LW</T>
      <Block name="SHIS AFWEX" left={73} right={410} tops={[333, 383, 433, 482, 532]} hs={[42, 41, 41, 41, 42]}
        wn={AFWEX_WN} xDom={[580, 1020]} xMaj={[600, 700, 800, 900, 1000]} xMinStep={20}
        obsDom={[215, 289]} obsMaj={[220, 240, 260, 280]} obsMinStep={5} obsFmt={intFmt}
        obsLo={AFWEX_BT_LO} obsHi={AFWEX_BT_HI} red={AFWEX_RED} du="15.39" h2o="1.35" obsX={[85, 243, 327]}
        resDom={RES_DOM} resMaj={RES_MAJ} resMinStep={0.2} resFmt={intFmt} bandOp={0.6}
        res={[
          { tag: "a", ver: "v9.4_", prof: "Sonde", std: "0.36", mean: "0.10", col: BLUE, lo: AFWEX_A_LO, hi: AFWEX_A_HI },
          { tag: "b", ver: "v10.1", prof: "Sonde", std: "0.26", mean: "-0.038", col: RED, lo: AFWEX_B_LO, hi: AFWEX_B_HI },
          { tag: "c", ver: "v9.4_", prof: "Retrieval", std: "0.27", mean: "0.043", col: MAGENTA, lo: AFWEX_C_LO, hi: AFWEX_C_HI },
          { tag: "d", ver: "v10.1", prof: "Retrieval", std: "0.26", mean: "0.004", col: BLACK, lo: AFWEX_D_LO, hi: AFWEX_D_HI },
        ]}
        titleX={158} stdX={344} valX={388} botX={90} wavX={240} />
      <V x={52} y={355} s={6.8} w="normal">Bright. Temp. (K)</V>
      <V x={57} y={502} s={6.6} w="normal">T<Sub>b</Sub> Residuals (K)</V>
      <V x={16} y={352} s={18}>SHIS</V>
      <V x={16} y={422} s={18}>SONDE</V>
      <V x={20} y={510} s={18}>RETV.</V>
      <V x={38} y={494} s={18} c={LABEL_BLUE}>v9.4</V>
      <V x={38} y={549} s={18} c={LABEL_BLUE}>V10.1</V>

      {/* ===== AERI ARM NSA ===== */}
      <T x={240} y={607} s={8.7} a="middle">AERI ARM NSA :   03/11/2001 11:13Z  LW</T>
      <Block name="AERI ARM NSA" left={75} right={406} tops={[611, 661, 710, 758, 807]} hs={[42, 41, 40, 40, 40]}
        wn={AERI_WN} xDom={[600, 1200]} xMaj={[600, 700, 800, 900, 1000, 1100, 1200]} xMinStep={20}
        obsDom={[-0.5, 10.5]} obsMaj={[0, 2, 4, 6, 8, 10]} obsMinStep={0.5} obsFmt={radFmt}
        obsLo={AERI_RAD_LO} obsHi={AERI_RAD_HI} red={AERI_RED} du="430.25" h2o="0.19" obsX={[88, 242, 325]}
        resDom={[-5, 5]} resMaj={[-4, -2, 0, 2, 4]} resMinStep={0.5} resFmt={radResFmt} bandOp={0.6}
        res={[
          { tag: "a", ver: "v9.4_", prof: "Sonde", std: "5.0e-08", mean: "-4.2e-09", col: BLUE, lo: AERI_A_LO, hi: AERI_A_HI },
          { tag: "b", ver: "v10.1", prof: "Sonde", std: "6.3e-08", mean: "3.0e-09", col: RED, lo: AERI_B_LO, hi: AERI_B_HI },
          { tag: "c", ver: "v9.4_", prof: "Retrieval", std: "5.5e-08", mean: "7.3e-09", col: MAGENTA, lo: AERI_C_LO, hi: AERI_C_HI },
          { tag: "d", ver: "v10.1", prof: "Retrieval", std: "5.1e-08", mean: "8.9e-09", col: BLACK, lo: AERI_D_LO, hi: AERI_D_HI },
        ]}
        titleX={158} stdX={343} valX={387} botX={92} wavX={240} />
      <V x={49} y={632} s={6.3} w="normal">Radiance (W/cm<Sup>2</Sup> sr<Sup>-1</Sup> cm<Sup>-1</Sup>)</V>
      <V x={47} y={778} s={6.6} w="normal">Rad Residuals</V>
      <V x={19} y={637} s={18}>AERI</V>
      <V x={19} y={710} s={18}>SONDE</V>
      <V x={20} y={800} s={18}>RETV.</V>
      <V x={37} y={776} s={18} c={LABEL_BLUE}>v9.4</V>
      <V x={37} y={831} s={18} c={LABEL_BLUE}>V10.1</V>

      {/* ===== TES AVE ===== */}
      <T x={237} y={881} s={8.7} a="middle">TES AVE : 2298_0003_10  20041107  2B1</T>
      <Block name="TES AVE" left={72} right={405} tops={[886, 935, 984, 1032, 1082]} hs={[42, 41, 41, 42, 41]}
        wn={TES_WN} xDom={[644, 966]} xMaj={[700, 750, 800, 850, 900]} xMinStep={10}
        obsDom={[192, 325]} obsMaj={[200, 220, 240, 260, 280, 300, 320]} obsMinStep={10} obsFmt={intFmt}
        obsLo={TES_BT_LO} obsHi={TES_BT_HI} red={TES_RED} du="261.28" h2o="1.18" obsX={[83, 238, 322]}
        resDom={RES_DOM} resMaj={RES_MAJ} resMinStep={0.2} resFmt={intFmt} bandOp={0.72}
        res={[
          { tag: "a", ver: "v9.4_", prof: "GMAO", std: "0.88", mean: "-0.37", col: BLUE, lo: TES_A_LO, hi: TES_A_HI },
          { tag: "b", ver: "v10.1", prof: "GMAO", std: "0.81", mean: "-0.57", col: RED, lo: TES_B_LO, hi: TES_B_HI },
          { tag: "c", ver: "v9.4_", prof: "Retrieval", std: "0.75", mean: "-0.080", col: MAGENTA, lo: TES_C_LO, hi: TES_C_HI },
          { tag: "d", ver: "v10.1", prof: "Retrieval", std: "0.77", mean: "-0.056", col: BLACK, lo: TES_D_LO, hi: TES_D_HI },
        ]}
        titleX={155} stdX={338} valX={378} botX={90} wavX={237} />
      <V x={48} y={910} s={6.8} w="normal">Bright. Temp. (K)</V>
      <V x={57} y={1055} s={6.6} w="normal">T<Sub>b</Sub> Residuals (K)</V>
      <V x={19} y={907} s={18}>TES</V>
      <V x={19} y={974} s={18}>GMAO</V>
      <V x={19} y={1059} s={18}>RETV.</V>
      <V x={37} y={1045} s={18} c={LABEL_BLUE}>v9.4</V>
      <V x={37} y={1099} s={18} c={LABEL_BLUE}>V10.1</V>

      <V x={414.5} y={1009} s={6.5} w="normal">Pressure (hPa)</V>
    </div>
  );
}
